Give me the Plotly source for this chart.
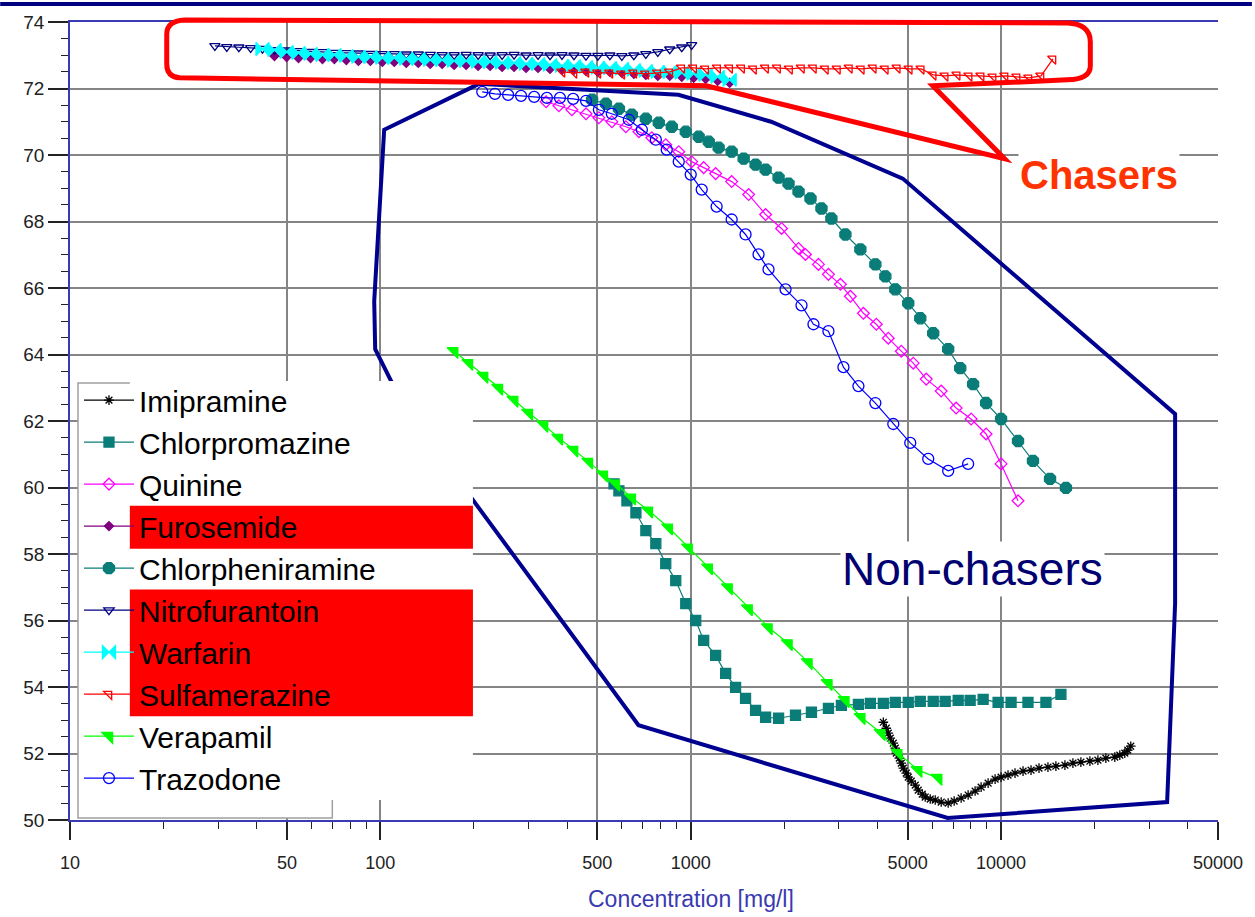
import plotly.graph_objects as go

# ---- data (concentration in mg/l) ----
imipramine_x = [4174, 4267, 4331, 4396, 4495, 4562, 4596, 4699, 4770, 4841, 4949, 5023, 5136, 5290, 5409,
                5572, 5697, 5912, 6135, 6413, 6754, 7060, 7435, 7832, 8249, 8624, 9083, 9566, 10000, 10530,
                11090, 11770, 12490, 13250, 14160, 15020, 16060, 17040, 18080, 19330, 20510, 21760, 23250,
                24130, 25040, 25610, 26180]
imipramine_y = [52.94, 52.76, 52.61, 52.46, 52.31, 52.16, 52.01, 51.86, 51.71, 51.56, 51.41, 51.29, 51.17, 51.05,
                50.90, 50.78, 50.69, 50.63, 50.60, 50.54, 50.51, 50.57, 50.66, 50.75, 50.87, 50.99, 51.11, 51.23,
                51.29, 51.35, 51.41, 51.47, 51.50, 51.56, 51.59, 51.62, 51.65, 51.71, 51.74, 51.77, 51.80, 51.86,
                51.89, 51.95, 52.01, 52.10, 52.22]

chlorpromazine_x = [566, 587, 623, 666, 717, 772, 831, 895, 964, 1038, 1101, 1203, 1296, 1395, 1502, 1618, 1743,
                    1919, 2176, 2449, 2778, 3059, 3470, 3792, 4174, 4562, 5023, 5491, 6045, 6606, 7274, 7949,
                    8753, 9781, 10770, 12210, 13950, 15590]
chlorpromazine_y = [60.11, 59.90, 59.60, 59.24, 58.70, 58.31, 57.71, 57.20, 56.51, 56.00, 55.40, 54.95, 54.41,
                    53.99, 53.66, 53.30, 53.09, 53.06, 53.15, 53.24, 53.36, 53.45, 53.48, 53.51, 53.51, 53.54,
                    53.54, 53.57, 53.57, 53.57, 53.60, 53.60, 53.63, 53.54, 53.54, 53.54, 53.54, 53.78]

quinine_x = [342, 376, 414, 460, 506, 557, 618, 681, 749, 831, 915, 1007, 1101, 1203, 1355, 1537, 1743, 1962,
             2225, 2343, 2580, 2778, 3036, 3269, 3601, 3963, 4331, 4769, 5212, 5740, 6413, 7166, 8007, 8949,
             10000, 11340]
quinine_y = [71.60, 71.48, 71.36, 71.24, 71.12, 71.00, 70.85, 70.70, 70.52, 70.31, 70.10, 69.80, 69.62, 69.44,
             69.20, 68.81, 68.21, 67.79, 67.19, 67.01, 66.71, 66.41, 66.11, 65.75, 65.24, 64.91, 64.49, 64.10,
             63.74, 63.26, 62.90, 62.39, 62.06, 61.61, 60.71, 59.60]

furosemide_x = [45.6, 49.9, 54.5, 59.6, 65.1, 71.1, 77.7, 85.0, 92.9, 101.5, 110.9, 121.2, 132.5, 144.8, 158.2,
                172.9, 189.0, 206.6, 225.8, 246.8, 269.7, 294.8, 322.2, 352.1, 384.8, 420.6, 459.7, 502.3, 549.0,
                600.0, 655.8, 716.7, 783.3, 856.1, 935.6, 1022, 1117, 1221, 1335]
furosemide_y = [72.98, 72.95, 72.92, 72.92, 72.89, 72.89, 72.86, 72.83, 72.83, 72.80, 72.80, 72.77, 72.77, 72.74,
                72.74, 72.71, 72.71, 72.68, 72.68, 72.65, 72.65, 72.62, 72.62, 72.59, 72.56, 72.56, 72.53, 72.50,
                72.50, 72.47, 72.44, 72.41, 72.38, 72.38, 72.35, 72.32, 72.29, 72.23, 72.17]

chlorpheniramine_x = [481, 533, 587, 646, 717, 789, 869, 964, 1061, 1143, 1230, 1355, 1481, 1618, 1743, 1919,
                      2066, 2225, 2432, 2638, 2840, 3151, 3521, 3935, 4237, 4562, 5023, 5491, 6045, 6754, 7386,
                      8128, 8949, 10000, 11340, 12670, 14380, 16180]
chlorpheniramine_y = [71.66, 71.54, 71.39, 71.21, 71.09, 70.97, 70.85, 70.70, 70.55, 70.40, 70.22, 70.10, 69.89,
                      69.71, 69.56, 69.32, 69.14, 68.90, 68.69, 68.39, 68.09, 67.61, 67.16, 66.71, 66.35, 65.96,
                      65.54, 65.09, 64.64, 64.16, 63.59, 63.11, 62.54, 62.06, 61.40, 60.80, 60.26, 59.99]

nitrofurantoin_x = [29.3, 32.0, 35.0, 38.2, 41.7, 45.6, 49.9, 54.5, 59.6, 65.1, 71.1, 77.7, 85.0, 92.9, 101.5,
                    110.9, 121.2, 132.5, 144.8, 158.2, 172.9, 189.0, 206.6, 225.8, 246.8, 269.7, 294.8, 322.2,
                    352.1, 384.8, 420.6, 459.7, 502.3, 549.0, 600.0, 655.8, 716.7, 783.3, 856.1, 935.6, 1007]
nitrofurantoin_y = [73.28, 73.25, 73.24, 73.22, 73.20, 73.16, 73.15, 73.13, 73.11, 73.10, 73.08, 73.07, 73.06,
                    73.05, 73.04, 73.04, 73.03, 73.03, 73.02, 73.01, 73.01, 73.02, 73.01, 73.00, 73.01, 73.02,
                    73.00, 73.01, 73.00, 73.01, 73.00, 72.99, 72.99, 73.00, 72.98, 73.00, 73.04, 73.10, 73.18,
                    73.24, 73.31]

warfarin_x = [41.7, 45.6, 49.9, 54.5, 59.6, 65.1, 71.1, 77.7, 85.0, 92.9, 101.5, 110.9, 121.2, 132.5, 144.8,
              158.2, 172.9, 189.0, 206.6, 225.8, 246.8, 269.7, 294.8, 322.2, 352.1, 384.8, 420.6, 459.7, 502.3,
              549.0, 600.0, 655.8, 716.7, 783.3, 856.1, 935.6, 1022, 1117, 1221, 1335]
warfarin_y = [73.19, 73.16, 73.10, 73.07, 73.04, 73.01, 73.01, 72.98, 72.95, 72.95, 72.92, 72.92, 72.89, 72.89,
              72.86, 72.86, 72.83, 72.83, 72.80, 72.80, 72.77, 72.77, 72.74, 72.74, 72.71, 72.68, 72.68, 72.65,
              72.62, 72.62, 72.59, 72.56, 72.53, 72.50, 72.50, 72.47, 72.44, 72.41, 72.35, 72.26]

sulfamerazine_x = [384.8, 420.6, 459.7, 502.3, 549.0, 600.0, 655.8, 716.7, 783.3, 856.1, 935.6, 1022, 1117, 1221,
                   1335, 1459, 1594, 1743, 1905, 2082, 2275, 2486, 2717, 2970, 3246, 3546, 3876, 4237, 4630,
                   5061, 5531, 6045, 6606, 7220, 7891, 8624, 9426, 10300, 11260, 12300, 13450, 14700]
sulfamerazine_y = [72.50, 72.47, 72.50, 72.47, 72.47, 72.44, 72.47, 72.44, 72.47, 72.50,
                   72.62, 72.62, 72.59, 72.62, 72.62, 72.62, 72.59, 72.62, 72.62, 72.59,
                   72.62, 72.62, 72.59, 72.59, 72.62, 72.59, 72.62, 72.59, 72.62, 72.59,
                   72.59, 72.41, 72.38, 72.41, 72.38, 72.38, 72.35, 72.38, 72.35, 72.32,
                   72.38, 72.89]

verapamil_x = [173, 193, 216, 241, 270, 301, 337, 376, 421, 470, 525, 574, 646, 733, 850, 985, 1143, 1325, 1537,
               1781, 2066, 2396, 2778, 3151, 3546, 4113, 4666, 5409, 6273]
verapamil_y = [64.10, 63.74, 63.35, 62.99, 62.63, 62.24, 61.88, 61.49, 61.13, 60.77, 60.38, 60.11, 59.69, 59.30,
               58.79, 58.19, 57.59, 56.99, 56.36, 55.79, 55.31, 54.74, 54.11, 53.60, 53.09, 52.61, 52.01, 51.50,
               51.26]

trazodone_x = [213, 234, 258, 284, 313, 344, 379, 418, 460, 506, 557, 632, 696, 772, 837, 915, 1000, 1085, 1212,
               1355, 1502, 1654, 1781, 2021, 2275, 2486, 2778, 3105, 3470, 3935, 4495, 5098, 5825, 6754, 7832]
trazodone_y = [71.90, 71.84, 71.81, 71.78, 71.75, 71.72, 71.72, 71.69, 71.63, 71.36, 71.24, 71.06, 70.76, 70.46,
               70.16, 69.80, 69.41, 68.96, 68.45, 68.06, 67.61, 67.01, 66.56, 65.96, 65.48, 64.91, 64.70, 63.62,
               63.05, 62.54, 61.91, 61.34, 60.86, 60.50, 60.71]

x_ticks = [10, 50, 100, 500, 1000, 5000, 10000, 50000]
x_minor = [20, 30, 40, 60, 70, 80, 90, 200, 300, 400, 600, 700, 800, 900, 2000, 3000, 4000, 6000, 7000, 8000,
           9000, 20000, 30000, 40000]

TEAL = "#0b7d78"
series = [
    ("Imipramine", imipramine_x, imipramine_y, "black", "asterisk-open", 8),
    ("Chlorpromazine", chlorpromazine_x, chlorpromazine_y, TEAL, "square", 10),
    ("Quinine", quinine_x, quinine_y, "#ff00ff", "diamond-open", 9),
    ("Furosemide", furosemide_x, furosemide_y, "#800080", "diamond", 7),
    ("Chlorpheniramine", chlorpheniramine_x, chlorpheniramine_y, TEAL, "octagon", 12),
    ("Nitrofurantoin", nitrofurantoin_x, nitrofurantoin_y, "#000080", "triangle-down-open", 9),
    ("Warfarin", warfarin_x, warfarin_y, "#00ffff", "bowtie", 13),
    ("Sulfamerazine", sulfamerazine_x, sulfamerazine_y, "#ff0000", "triangle-ne-open", 9),
    ("Verapamil", verapamil_x, verapamil_y, "#00ff00", "triangle-ne", 12),
    ("Trazodone", trazodone_x, trazodone_y, "#0000ff", "circle-open", 11),
]

fig = go.Figure()
for name, xs, ys, color, symbol, size in series:
    fig.add_trace(go.Scatter(
        x=xs, y=ys, name=name, mode="lines+markers",
        line=dict(color=color, width=1.2),
        marker=dict(symbol=symbol, size=size, color=color, line=dict(color=color, width=1.3)),
    ))

# plot area in pixels (x 70..1221, y 20..820) -> paper coords for the drawn overlays
PL, PT, PW, PH = 70, 20, 1151, 800


def fx(px):
    return (px - PL) / PW


def fy(py):
    return (PT + PH - py) / PH


def pt(px, py):
    return f"{fx(px):.5f},{fy(py):.5f}"


def rect(x0, y0, x1, y1, fill, line_color=None, lw=0):
    return dict(type="rect", xref="paper", yref="paper", x0=fx(x0), x1=fx(x1), y0=fy(y1), y1=fy(y0),
                fillcolor=fill, line=dict(color=line_color or fill, width=lw), layer="above")


navy_pts = [(480, 82), (680, 93), (773, 120), (905, 177), (1178, 413), (1178, 603), (1170, 802), (950, 818),
            (640, 725), (404, 404), (376, 348), (375, 300), (385, 128)]
navy_path = "M" + " L".join(pt(*p) for p in navy_pts) + " Z"

bubble_path = (f"M{pt(185, 18)} L{pt(1070, 21)} Q{pt(1093, 22)} {pt(1093, 40)} L{pt(1093, 64)} "
               f"Q{pt(1093, 77)} {pt(1070, 78)} L{pt(935, 84)} L{pt(1007, 157)} L{pt(708, 84)} "
               f"L{pt(180, 76)} Q{pt(167, 75)} {pt(167, 62)} L{pt(167, 32)} Q{pt(167, 19)} {pt(185, 18)} Z")

shapes = [
    rect(0, 0, 1255, 4, "#000080"),
    dict(type="path", xref="paper", yref="paper", path=navy_path, line=dict(color="#000090", width=4),
         layer="above"),
    dict(type="path", xref="paper", yref="paper", path=bubble_path, line=dict(color="#ff0000", width=5),
         layer="above"),
    rect(78, 382, 333, 818, "white", "#a0a0a0", 1.5),
    rect(130, 380, 474, 800, "white"),
    rect(130, 505, 474, 548, "#ff0000"),
    rect(130, 589, 474, 716, "#ff0000"),
]

fig.update_layout(
    width=1255, height=917,
    margin=dict(l=70, r=34, t=20, b=97),
    paper_bgcolor="white", plot_bgcolor="white",
    shapes=shapes,
    legend=dict(x=fx(79), y=fy(373), xanchor="left", yanchor="top", bgcolor="rgba(0,0,0,0)", borderwidth=0,
                font=dict(family="Arial", size=30, color="black"), itemwidth=50, tracegroupgap=0),
    annotations=[
        dict(text="Concentration [mg/l]", x=fx(693), y=fy(899), xref="paper", yref="paper", showarrow=False,
             xanchor="center", yanchor="middle", font=dict(family="Arial", size=23, color="#3a3ab0")),
        dict(text="Chasers", x=fx(1102), y=fy(173), xref="paper", yref="paper", showarrow=False,
             xanchor="center", yanchor="middle", bgcolor="white",
             font=dict(family="Arial", size=40, color="#ff3300", weight="bold")),
        dict(text="Non-chasers", x=fx(975), y=fy(568), xref="paper", yref="paper", showarrow=False,
             xanchor="center", yanchor="middle", bgcolor="white",
             font=dict(family="Arial", size=46, color="#000070")),
    ],
)

fig.update_xaxes(
    type="log", range=[1, 4.69897], tickvals=x_ticks, ticktext=[str(v) for v in x_ticks],
    showgrid=True, gridcolor="#858585", gridwidth=1.6, zeroline=False,
    showline=True, linecolor="#3a3ab4", linewidth=1.5, mirror=True,
    ticks="outside", ticklen=18, tickwidth=1.5, tickcolor="#222", ticklabelstandoff=8,
    tickfont=dict(family="Arial", size=18, color="#222"),
    minor=dict(tickvals=x_minor, ticks="outside", ticklen=7, tickwidth=1.2, tickcolor="#222", showgrid=False),
)
fig.update_yaxes(
    range=[50, 74], tick0=50, dtick=2,
    showgrid=True, gridcolor="#858585", gridwidth=1.6, zeroline=False,
    showline=True, linecolor="#3a3ab4", linewidth=1.5,
    ticks="outside", ticklen=20, tickwidth=1.5, tickcolor="#222",
    tickfont=dict(family="Arial", size=19, color="#222"),
    minor=dict(dtick=0.5, ticks="outside", ticklen=7, tickwidth=1.2, tickcolor="#222", showgrid=False),
)

# the page body has a default 8px margin; drop it so the figure sits at the window origin
fig.write_html("out.html", config={"displayModeBar": False},
               post_script="document.body.style.margin='0px';")
